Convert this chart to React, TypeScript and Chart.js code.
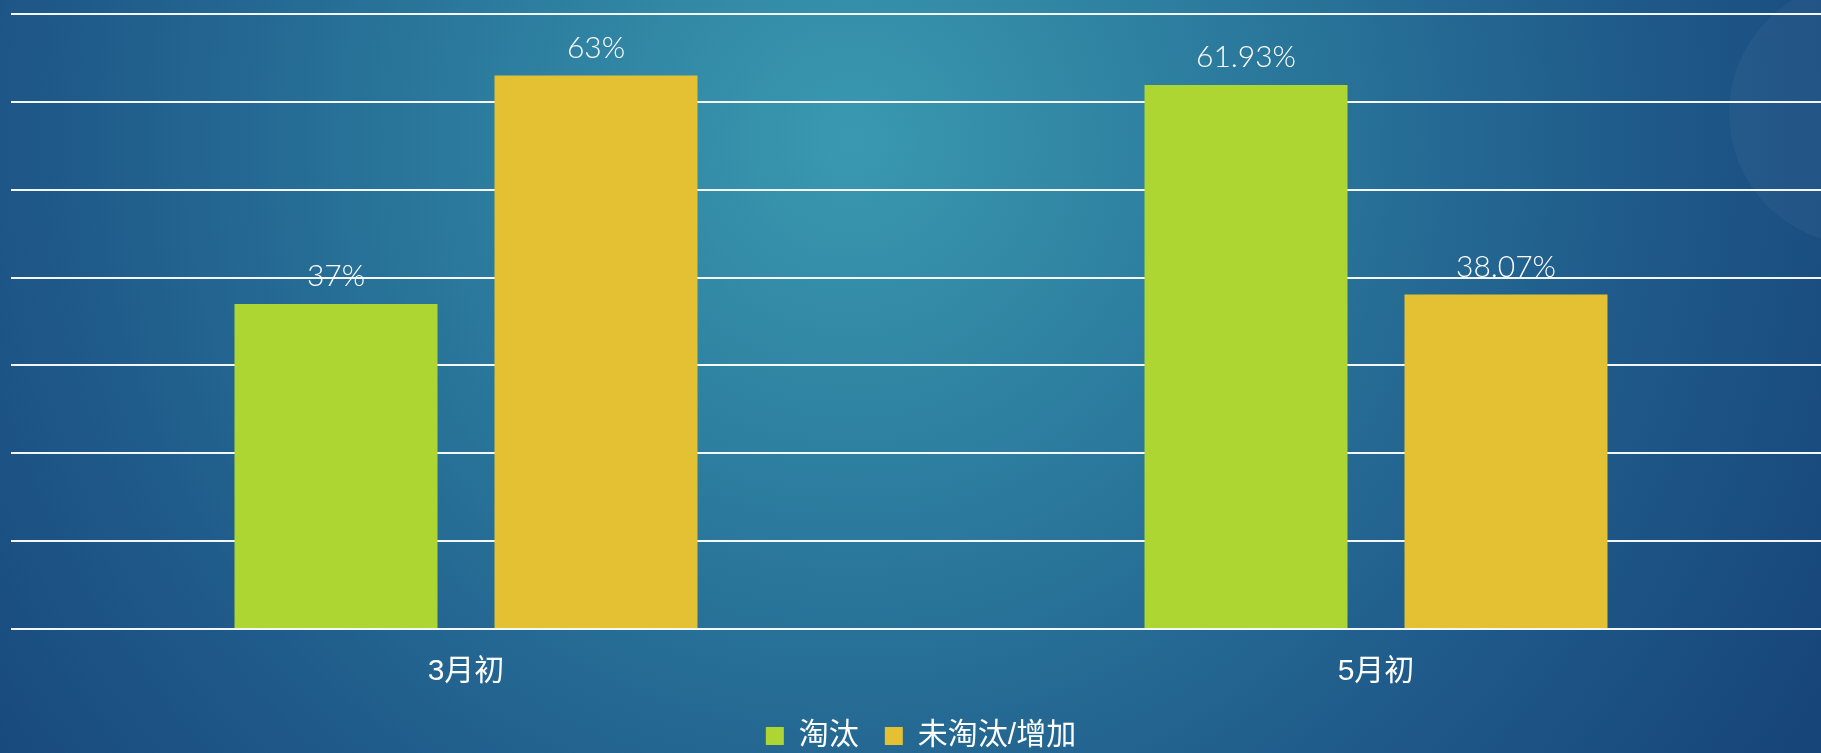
import React, { useEffect, useRef } from "react";
import { Chart, registerables } from "chart.js";

Chart.register(...registerables);

const categories = ["3月初", "5月初"];
const seriesNames = ["淘汰", "未淘汰/增加"];
const eliminated = [37, 61.93];
const notEliminated = [63, 38.07];
const seriesColors = ["#add633", "#e4c033"];
const yMin = 0;
const yMax = 70;
const yStep = 10;

const CJK = '"Liberation Sans", "Noto Sans CJK SC", sans-serif';

const backgroundPlugin = {
  id: "bgPaint",
  beforeDraw(chart: any) {
    const { ctx, width, height } = chart;
    ctx.save();
    const g = ctx.createRadialGradient(850, 140, 0, 850, 140, 1120);
    g.addColorStop(0, "#3a99b0");
    g.addColorStop(0.35, "#2b7a9d");
    g.addColorStop(0.7, "#1f5a8a");
    g.addColorStop(1, "#17457a");
    ctx.fillStyle = g;
    ctx.fillRect(0, 0, width, height);
    ctx.beginPath();
    ctx.arc(1861, 113, 132, 0, Math.PI * 2);
    ctx.fillStyle = "rgba(255,255,255,0.035)";
    ctx.fill();
    ctx.restore();
  },
};

const valueLabelPlugin = {
  id: "valueLabels",
  afterDatasetsDraw(chart: any) {
    const { ctx } = chart;
    ctx.save();
    ctx.font = '300 30px Lato, "Liberation Sans", sans-serif';
    ctx.fillStyle = "#ffffff";
    ctx.textAlign = "center";
    ctx.textBaseline = "alphabetic";
    chart.data.datasets.forEach((ds: any, di: number) => {
      const meta = chart.getDatasetMeta(di);
      meta.data.forEach((bar: any, i: number) => {
        ctx.fillText(String(ds.data[i]) + "%", bar.x, bar.y - 18);
      });
    });
    ctx.restore();
  },
};

export default function App() {
  const ref = useRef<HTMLCanvasElement | null>(null);
  useEffect(() => {
    if (!ref.current) return;
    const chart = new Chart(ref.current, {
      type: "bar",
      data: {
        labels: categories,
        datasets: [
          { label: seriesNames[0], data: eliminated, backgroundColor: seriesColors[0], borderWidth: 0 },
          { label: seriesNames[1], data: notEliminated, backgroundColor: seriesColors[1], borderWidth: 0 },
        ],
      },
      options: {
        responsive: false,
        animation: false,
        devicePixelRatio: 1,
        categoryPercentage: 0.5714,
        barPercentage: 0.7808,
        layout: { padding: { top: 14, left: 11, right: 9, bottom: 0 } },
        scales: {
          x: {
            grid: { display: false, drawTicks: false },
            border: { display: false },
            ticks: {
              color: "#ffffff",
              padding: 20,
              font: { family: CJK, size: 30, lineHeight: 1.533 },
            },
            afterFit: (scale: any) => {
              scale.height = 66;
            },
          },
          y: {
            min: yMin,
            max: yMax,
            ticks: { display: false, stepSize: yStep },
            grid: { color: "rgba(255,255,255,0.95)", lineWidth: 2, drawTicks: false },
            border: { display: false },
          },
        },
        plugins: {
          tooltip: { enabled: false },
          legend: {
            position: "bottom",
            labels: {
              color: "#ffffff",
              boxWidth: 18,
              boxHeight: 18,
              padding: 26,
              font: { family: CJK, size: 30 },
            },
          },
        },
      },
      plugins: [backgroundPlugin, valueLabelPlugin],
    });
    return () => chart.destroy();
  }, []);
  return (
    <div style={{ position: "fixed", left: 0, top: 0, width: 1821, height: 753, overflow: "hidden" }}>
      <canvas ref={ref} width={1840} height={761} style={{ display: "block" }} />
    </div>
  );
}
